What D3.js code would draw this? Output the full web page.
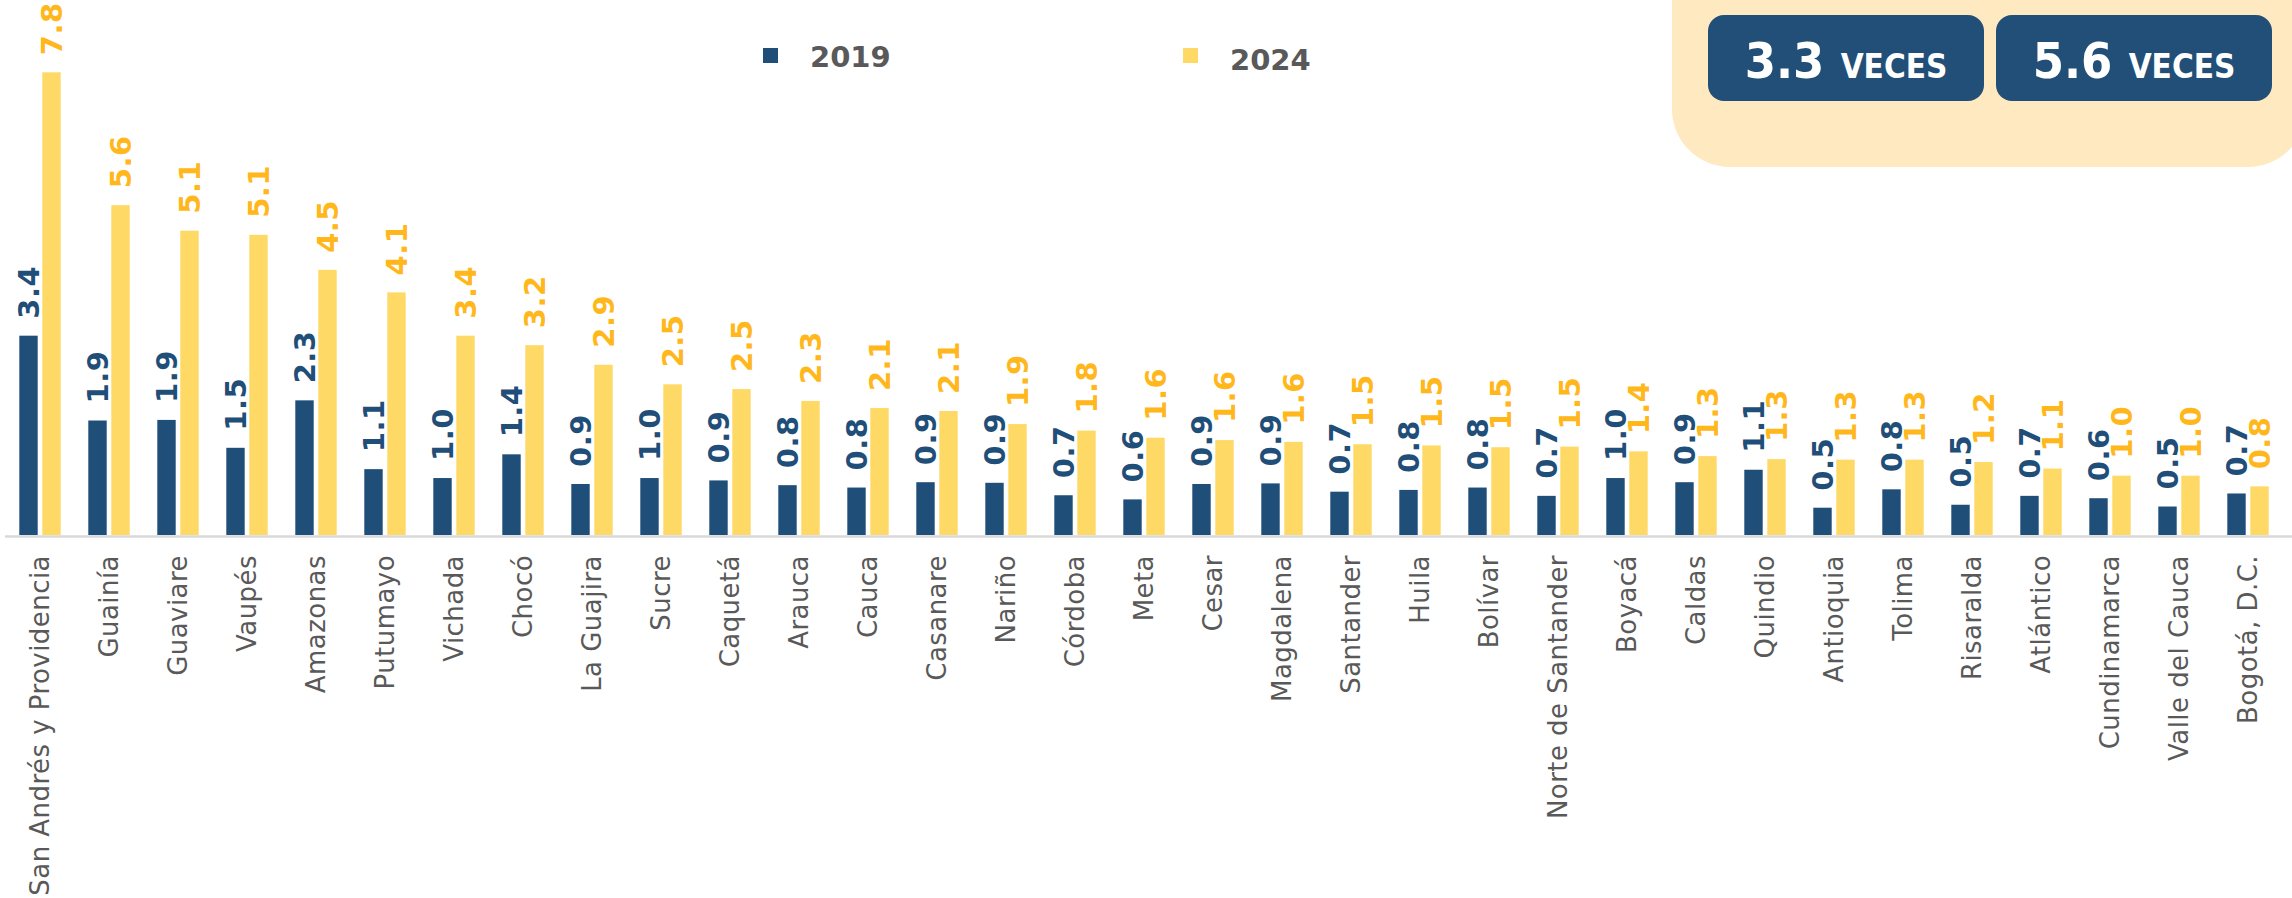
<!DOCTYPE html>
<html>
<head>
<meta charset="utf-8">
<script src="https://cdn.jsdelivr.net/npm/d3@7"></script>
<style>
  html, body { margin: 0; padding: 0; background: #ffffff; }
  svg { display: block; }
</style>
</head>
<body>
<svg id="chart" width="2292" height="898"></svg>
<script>
// ---------------- data ----------------
const categories = [
  "San Andrés y Providencia", "Guainía", "Guaviare", "Vaupés", "Amazonas", "Putumayo",
  "Vichada", "Chocó", "La Guajira", "Sucre", "Caquetá", "Arauca", "Cauca", "Casanare",
  "Nariño", "Córdoba", "Meta", "Cesar", "Magdalena", "Santander", "Huila", "Bolívar",
  "Norte de Santander", "Boyacá", "Caldas", "Quindio", "Antioquia", "Tolima", "Risaralda",
  "Atlántico", "Cundinamarca", "Valle del Cauca", "Bogotá, D.C."
];
const values2019 = [3.36, 1.93, 1.94, 1.47, 2.27, 1.11, 0.96, 1.36, 0.86, 0.96, 0.92, 0.84, 0.80,
  0.89, 0.88, 0.67, 0.60, 0.86, 0.87, 0.73, 0.76, 0.80, 0.66, 0.96, 0.89, 1.10, 0.46, 0.77,
  0.51, 0.66, 0.62, 0.48, 0.70];
const values2024 = [7.80, 5.56, 5.13, 5.06, 4.47, 4.09, 3.36, 3.20, 2.87, 2.54, 2.46, 2.26, 2.14,
  2.09, 1.87, 1.76, 1.64, 1.60, 1.57, 1.53, 1.51, 1.48, 1.49, 1.41, 1.33, 1.28, 1.27, 1.27,
  1.23, 1.12, 1.00, 1.00, 0.82];
const seriesNames = ["2019", "2024"];
const boxNumbers = ["3.3", "5.6"];
const boxUnit = "VECES";

// ---------------- styles ----------------
const navy = "#1F4E79";
const yellow = "#FFD966";
const yellowLabel = "#FFB71C";
const gray = "#595959";
const colors = { "2019": navy, "2024": yellow };
const labelColors = { "2019": navy, "2024": yellowLabel };

const svg = d3.select("#chart");

// ---------------- highlight box (top right) ----------------
svg.append("rect")
  .attr("x", 1672).attr("y", -80)
  .attr("width", 634).attr("height", 247)
  .attr("rx", 58).attr("ry", 58)
  .attr("fill", "#FFE9C0");

const boxX = [1708, 1996];
boxNumbers.forEach((num, i) => {
  svg.append("rect")
    .attr("x", boxX[i]).attr("y", 15)
    .attr("width", 276).attr("height", 86)
    .attr("rx", 16).attr("ry", 16)
    .attr("fill", "#214F78");
  const t = svg.append("text")
    .attr("x", boxX[i] + 138).attr("y", 78)
    .attr("text-anchor", "middle")
    .attr("fill", "#ffffff")
    .attr("font-family", "'DejaVu Sans Condensed', 'DejaVu Sans', sans-serif")
    .attr("font-weight", "bold");
  t.append("tspan").attr("font-size", 50).text(num);
  t.append("tspan").attr("font-size", 33).attr("dx", 6).text(" " + boxUnit);
});

// ---------------- legend ----------------
const legendX = [763, 1183];
const legendTextY = [67, 70];
seriesNames.forEach((s, i) => {
  svg.append("rect")
    .attr("x", legendX[i]).attr("y", 48)
    .attr("width", 15).attr("height", 15)
    .attr("fill", colors[s]);
  svg.append("text")
    .attr("x", legendX[i] + 47).attr("y", legendTextY[i])
    .attr("fill", gray)
    .attr("font-family", "'DejaVu Sans', sans-serif")
    .attr("font-weight", "bold")
    .attr("font-size", 29)
    .text(s);
});

// ---------------- scales ----------------
const x0 = d3.scaleBand()
  .domain(categories)
  .range([5.5, 2282.5])
  .paddingInner(0.4)
  .paddingOuter(0.2);

const x1 = d3.scaleBand()
  .domain(seriesNames)
  .range([0, x0.bandwidth()])
  .paddingInner(0.2);

const y = d3.scaleLinear()
  .domain([0, 7.8])
  .range([535, 72.3]);

const data = categories.map((c, i) => ({
  cat: c,
  vals: [{ s: "2019", v: values2019[i] }, { s: "2024", v: values2024[i] }]
}));

// ---------------- bars ----------------
const groups = svg.append("g").selectAll("g")
  .data(data).join("g")
  .attr("transform", d => `translate(${x0(d.cat)},0)`);

groups.selectAll("rect")
  .data(d => d.vals).join("rect")
  .attr("x", d => x1(d.s))
  .attr("y", d => y(d.v))
  .attr("width", x1.bandwidth())
  .attr("height", d => y(0) - y(d.v))
  .attr("fill", d => colors[d.s]);

// value labels
const fmt = d3.format(".1f");
groups.selectAll("text.val")
  .data(d => d.vals).join("text")
  .attr("class", "val")
  .attr("transform", d => `translate(${x1(d.s) + x1.bandwidth() / 2},${y(d.v) - 17}) rotate(-90)`)
  .attr("dy", "0.36em")
  .attr("text-anchor", "start")
  .attr("fill", d => labelColors[d.s])
  .attr("font-family", "'DejaVu Sans', sans-serif")
  .attr("font-weight", "bold")
  .attr("font-size", 29)
  .attr("letter-spacing", 0.5)
  .text(d => fmt(d.v));

// ---------------- x axis ----------------
const xAxis = d3.axisBottom(x0).tickSize(0).tickPadding(0);
const axisG = svg.append("g")
  .attr("transform", `translate(0,${y(0)})`)
  .call(xAxis);
axisG.select(".domain").remove();
axisG.selectAll(".tick text")
  .attr("transform", "translate(0,20) rotate(-90)")
  .attr("x", 0).attr("y", 0)
  .attr("dy", "0.36em")
  .attr("text-anchor", "end")
  .attr("fill", gray)
  .attr("font-family", "'DejaVu Sans', sans-serif")
  .attr("font-size", 26)
  .attr("letter-spacing", 0.45);

svg.append("line")
  .attr("x1", 5).attr("x2", 2292)
  .attr("y1", y(0) + 1.5).attr("y2", y(0) + 1.5)
  .attr("stroke", "#D9D9D9")
  .attr("stroke-width", 2.5);
</script>
</body>
</html>
